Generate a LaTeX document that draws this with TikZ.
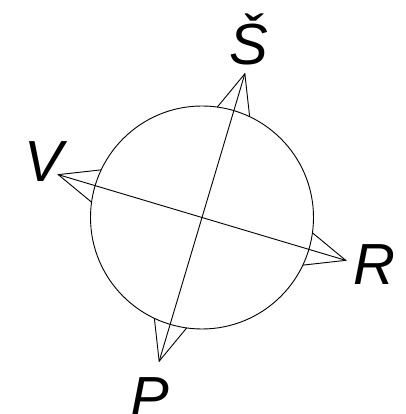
\documentclass[tikz,border=0pt]{standalone}
\usepackage{fontspec}
\setmainfont{Liberation Sans}

\begin{document}
\begin{tikzpicture}[x=1pt,y=1pt,line width=0.9pt]
\useasboundingbox (0,0) rectangle (405,414);
\coordinate (c) at (202,196.5);
\draw (c) circle (111.5);

\begin{scope}[shift={(c)},rotate=-16.6]
\coordinate (n) at (90:150);
\coordinate (e) at (0:150);
\coordinate (w) at (180:150);
\coordinate (s) at (270:150);
\draw (n) -- (s);
\draw (w) -- (e);
\foreach \a/\t in {90/n,0/e,180/w,270/s}
  \draw (\a+8.7:111.5) -- (\t) -- (\a-8.7:111.5);
\end{scope}

\tikzset{smer/.style={font=\fontsize{58}{70}\selectfont\itshape,anchor=base,inner sep=0pt}}
\node[smer] (sever) at (249,349) {Š};
\node[smer] (vychod) at (44,232) {V};
\node[smer] (zapad) at (374,129) {R};
\node[smer] (jih) at (150,-4) {P};
\end{tikzpicture}
\end{document}
